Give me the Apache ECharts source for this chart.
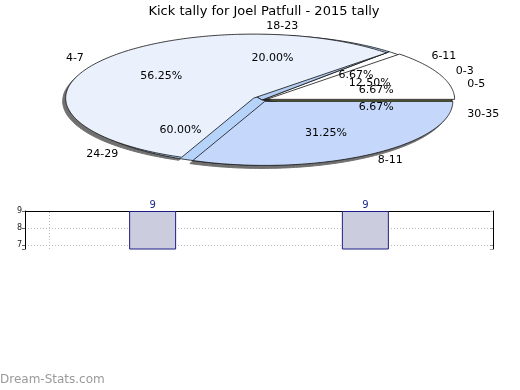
<!DOCTYPE html>
<html><head><meta charset="utf-8">
<script src="https://cdn.jsdelivr.net/npm/echarts@6/dist/echarts.min.js"></script>
<style>html,body{margin:0;padding:0;background:#fff}#c{width:520px;height:390px}</style>
</head><body><div id="c"></div>
<script>
// ---- data ----
const titleText = 'Kick tally for Joel Patfull - 2015 tally';
const innerCategories = ['0-3', '4-7', '8-11'];
const innerValues = [2, 9, 5];
const outerCategories = ['30-35', '0-5', '6-11', '18-23', '24-29'];
const outerValues = [1, 1, 1, 3, 9];
const barPositions = [3, 8];
const barValues = [9, 9];
const yTicks = [7, 8, 9];
const footerText = 'Dream-Stats.com';

// ---- layout / style ----
const CX = 262, CY = 100, RX = 188, RY = 64;      // pie ellipse
const LCX = 260, LCY = 99, LRX = 190, LRY = 66;   // label ellipse
const innerStart = 0, outerStart = -24;
const innerColors = ['#ffffff', '#eaf1fd', '#c5d8fc'];
const outerColors = ['#bfd060', '#ffffff', '#ffffff', '#b4cdf2', '#b6d3f9'];
const innerExplode = [5, 10, 5];
const outerExplode = [0, 0, 0, 0, 0];
const FONT = '"DejaVu Sans", sans-serif';

function sum(a) { return a.reduce((s, v) => s + v, 0); }
function angles(values, start, i) {
  const total = sum(values);
  let cum = 0;
  for (let k = 0; k < i; k++) cum += values[k];
  const a0 = start + cum / total * 360;
  const a1 = a0 + values[i] / total * 360;
  return [a0, a1, (a0 + a1) / 2];
}
function sectorPoints(a0, a1, ox, oy, rx, ry) {
  const pts = [[CX + ox, CY + oy]];
  const n = Math.max(2, Math.ceil(a1 - a0));
  for (let k = 0; k <= n; k++) {
    const a = (a0 + (a1 - a0) * k / n) * Math.PI / 180;
    pts.push([CX + ox + rx * Math.cos(a), CY + oy - ry * Math.sin(a)]);
  }
  return pts;
}
function sliceSeries(values, start, colors, explode, z, shadow, rx, ry) {
  return {
    type: 'custom', coordinateSystem: 'none', z: z, silent: true,
    data: values.map(v => [v]),
    renderItem: function (params, api) {
      const i = params.dataIndex;
      const [a0, a1, mid] = angles(values, start, i);
      const m = mid * Math.PI / 180;
      let ox = explode[i] * Math.cos(m), oy = -explode[i] * Math.sin(m) * RY / RX;
      if (shadow) { ox -= 3; oy += 3; }
      return {
        type: 'polygon',
        shape: { points: sectorPoints(a0, a1, ox, oy, rx, ry) },
        style: shadow ? { fill: '#707070', stroke: '#707070', lineWidth: 1 }
                      : { fill: colors[i], stroke: '#111', lineWidth: 0.8 }
      };
    }
  };
}
function labelSeries(values, cats, start, z) {
  const total = sum(values);
  return {
    type: 'custom', coordinateSystem: 'none', z: z, silent: true,
    data: values.map(v => [v]),
    renderItem: function (params, api) {
      const i = params.dataIndex;
      const [, , mid] = angles(values, start, i);
      const m = mid * Math.PI / 180;
      const c = Math.cos(m), s = Math.sin(m);
      const pct = (api.value(0) / total * 100).toFixed(2) + '%';
      const align = Math.abs(c) < 0.2 ? 'center' : (c > 0 ? 'left' : 'right');
      return {
        type: 'group',
        children: [
          { type: 'text', x: LCX + LRX * 0.625 * c, y: LCY - LRY * 0.625 * s,
            style: { text: pct, fill: '#000', font: '11px ' + FONT, align: 'center', verticalAlign: 'middle' } },
          { type: 'text', x: LCX + LRX * 1.115 * c, y: LCY - LRY * 1.115 * s,
            style: { text: cats[i], fill: '#000', font: '11px ' + FONT, align: align, verticalAlign: 'middle' } }
        ]
      };
    }
  };
}

const chart = echarts.init(document.getElementById('c'), null, { renderer: 'canvas' });
chart.setOption({
  animation: false,
  backgroundColor: '#fff',
  title: { text: titleText, left: 259, top: 0, textAlign: 'center',
    textStyle: { fontFamily: FONT, fontSize: 13, fontWeight: 'normal', color: '#000' } },
  graphic: [{ type: 'text', left: 0, top: 374, style: { text: footerText, fill: '#9a9a9a', font: '12px ' + FONT } }],
  grid: { left: 25, right: 27, top: 211, height: 38 },
  xAxis: { type: 'value', min: 0, max: 11, position: 'top',
    axisLine: { show: true, lineStyle: { color: '#000' } }, axisTick: { show: false },
    axisLabel: { show: false }, splitLine: { show: false } },
  yAxis: [
    { type: 'value', min: 6.76, max: 9, minInterval: 1,
      axisLine: { show: true, lineStyle: { color: '#000' } },
      axisTick: { show: true, length: 3, lineStyle: { color: '#666' } },
      axisLabel: { fontSize: 8, color: '#222', fontFamily: FONT, margin: 3,
        formatter: v => yTicks.indexOf(v) >= 0 ? String(v) : '' },
      splitLine: { show: true, showMinLine: false, showMaxLine: false, lineStyle: { color: '#bbb', type: [1, 2] } } },
    { type: 'value', min: 6.76, max: 9, minInterval: 1, position: 'right',
      axisLine: { show: true, lineStyle: { color: '#000' } },
      axisTick: { show: true, inside: true, length: 3, lineStyle: { color: '#999' } },
      axisLabel: { show: false }, splitLine: { show: false } }
  ],
  series: [
    sliceSeries(innerValues, innerStart, innerColors, innerExplode, 1, true, RX, RY),
    sliceSeries(outerValues, outerStart, outerColors, outerExplode, 2, false, RX + 2, RY + 1),
    sliceSeries(innerValues, innerStart, innerColors, innerExplode, 3, false, RX, RY),
    labelSeries(outerValues, outerCategories, outerStart, 4),
    labelSeries(innerValues, innerCategories, innerStart, 5),
    {
      type: 'bar', z: 6, barWidth: 47,
      data: barPositions.map((p, i) => [p, barValues[i]]),
      itemStyle: { color: '#ccccdf', borderColor: '#1c1c85', borderWidth: 1 },
      label: { show: true, position: 'top', distance: 1, color: '#1c2a8a', fontSize: 10, fontFamily: FONT },
      markLine: { silent: true, symbol: 'none', label: { show: false },
        lineStyle: { color: '#bbb', type: [1, 2], width: 1 },
        data: [{ xAxis: 0.565 }] }
    }
  ]
});
</script></body></html>
